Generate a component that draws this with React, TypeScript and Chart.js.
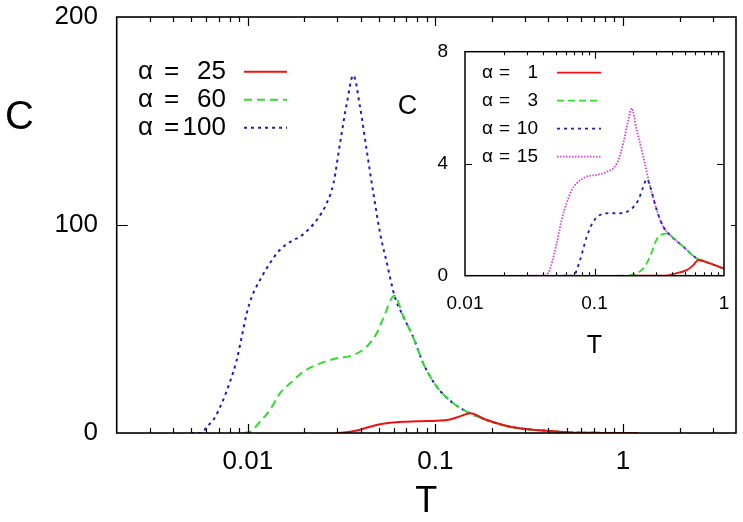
import React, { useEffect, useRef } from 'react';
import { Chart, registerables } from 'chart.js';

Chart.register(...registerables);

const FONT = '"Liberation Sans", Arial, Helvetica, sans-serif';

// ---------- main chart data ----------
const mainAlphas = [25, 60, 100];

const redT = [0.0298, 0.035, 0.0396, 0.0448, 0.0507, 0.0573, 0.0672, 0.0828, 0.102, 0.1196, 0.135, 0.153, 0.1877, 0.25, 0.347, 0.522, 0.78, 1.2];
const redC = [0, 0.6, 1.6, 3.0, 4.2, 4.9, 5.4, 5.7, 5.9, 6.5, 8.0, 9.5, 6.25, 3.0, 1.4, 0.3, 0.05, 0];

const greenT = [0.0095, 0.0103, 0.0116, 0.0131, 0.0148, 0.0168, 0.0198, 0.0243, 0.0298, 0.0365, 0.043, 0.0486, 0.0526, 0.0605, 0.0674, 0.0762, 0.0861, 0.1016, 0.1245, 0.153, 0.1877, 0.25, 0.347, 0.522, 0.78, 1.2];
const greenC = [0, 0.6, 5.4, 11, 19, 23.9, 29.5, 33.5, 35.9, 37.5, 41.5, 48, 55, 66, 56, 46, 33.5, 22.3, 14.3, 9.5, 6.25, 3.0, 1.4, 0.3, 0.05, 0];

const blueT = [0.005, 0.00568, 0.00604, 0.00655, 0.00726, 0.00804, 0.00872, 0.00928, 0.00986, 0.0105, 0.0116, 0.0131, 0.0148, 0.0175, 0.019, 0.0233, 0.0263, 0.0286, 0.031, 0.0337, 0.0365, 0.0396, 0.043, 0.0467, 0.0507, 0.055, 0.0605, 0.0674, 0.0762, 0.0861, 0.1016, 0.1245, 0.153, 0.1877, 0.25, 0.347, 0.522, 0.78, 1.2];
const blueC = [0, 0, 3, 6.25, 14.3, 24.7, 35, 46.3, 57.5, 65.5, 73.5, 81.6, 88, 92.8, 94.4, 102.4, 110.4, 120, 139.3, 158.5, 172, 156.9, 136, 115.2, 96, 82, 66, 56, 46, 33.5, 22.3, 14.3, 9.5, 6.25, 3.0, 1.4, 0.3, 0.05, 0];

const mainXTicks = [0.01, 0.1, 1];
const mainXTickLabels = ['0.01', '0.1', '1'];
const mainYTicks = [0, 100, 200];

// ---------- inset data ----------
const insetAlphas = [1, 3, 10, 15];

const iRedT = [0.2, 0.3398, 0.4313, 0.515, 0.5795, 0.6331, 0.7797, 1.0];
const iRedC = [0, 0, 0.09, 0.2, 0.38, 0.56, 0.44, 0.25];

const iGreenT = [0.15, 0.1773, 0.2118, 0.2382, 0.2683, 0.2932, 0.3109, 0.3398, 0.3628, 0.3828, 0.4851, 0.6152, 0.7797, 1.0];
const iGreenC = [0, 0, 0.09, 0.26, 0.68, 1.16, 1.39, 1.49, 1.5, 1.45, 1.04, 0.62, 0.44, 0.25];

const iBlueT = [0.05, 0.0592, 0.0686, 0.0773, 0.0871, 0.0979, 0.1103, 0.1317, 0.1574, 0.188, 0.2179, 0.2382, 0.253, 0.2683, 0.3022, 0.3398, 0.3828, 0.4851, 0.6152, 0.7797, 1.0];
const iBlueC = [0, 0, 0, 0.56, 1.39, 1.93, 2.17, 2.23, 2.23, 2.35, 2.7, 3.18, 3.45, 3.2, 2.35, 1.75, 1.45, 1.04, 0.62, 0.44, 0.25];

const iMagT = [0.03, 0.0391, 0.044, 0.0467, 0.0511, 0.0558, 0.061, 0.0667, 0.0729, 0.0871, 0.104, 0.1243, 0.1484, 0.1669, 0.1824, 0.1938, 0.2118, 0.2382, 0.2683, 0.3022, 0.3398, 0.3828, 0.4851, 0.6152, 0.7797, 1.0];
const iMagC = [0, 0, 0.1, 0.44, 1.16, 2.0, 2.6, 3.06, 3.3, 3.54, 3.6, 3.71, 4.0, 4.73, 5.56, 5.98, 5.2, 4.25, 3.2, 2.35, 1.75, 1.45, 1.04, 0.62, 0.44, 0.25];

const insetXTicks = [0.01, 0.1, 1];
const insetXTickLabels = ['0.01', '0.1', '1'];
const insetYTicks = [0, 4, 8];

// ---------- styles ----------
const RED = '#ee1111';
const GREEN = '#2fdc2f';
const BLUE = '#1c1cc8';
const MAGENTA = '#e03ce0';

function pts(xs: number[], ys: number[]) {
  return xs.map((x, i) => ({ x, y: ys[i] }));
}

const bgPlugin = {
  id: 'bg',
  beforeDraw(chart: any, _a: any, o: any) {
    if (!o || !o.rect) return;
    const ctx = chart.ctx;
    ctx.save();
    ctx.fillStyle = '#fff';
    ctx.fillRect(o.rect[0], o.rect[1], o.rect[2], o.rect[3]);
    ctx.restore();
  },
};

const framePlugin = {
  id: 'frame',
  afterDraw(chart: any, _a: any, o: any) {
    const { ctx, chartArea: a } = chart;
    const xs = chart.scales.x;
    const ys = chart.scales.y;
    ctx.save();
    ctx.strokeStyle = '#000';
    ctx.lineWidth = o.tickWidth;
    ctx.setLineDash([]);
    ctx.beginPath();
    const lo = Math.floor(Math.log10(xs.min));
    const hi = Math.ceil(Math.log10(xs.max));
    for (let e = lo; e <= hi; e++) {
      for (let m = 1; m < 10; m++) {
        const v = m * Math.pow(10, e);
        if (v <= xs.min * 1.0001 || v >= xs.max * 0.9999) continue;
        const px = Math.round(xs.getPixelForValue(v)) + 0.5;
        const len = m === 1 ? o.major : o.minor;
        ctx.moveTo(px, a.bottom);
        ctx.lineTo(px, a.bottom - len);
        ctx.moveTo(px, a.top);
        ctx.lineTo(px, a.top + len);
      }
    }
    ys.ticks.forEach((t: any) => {
      if (t.value <= ys.min || t.value >= ys.max) return;
      const py = Math.round(ys.getPixelForValue(t.value)) + 0.5;
      ctx.moveTo(a.left, py);
      ctx.lineTo(a.left + o.yMajor, py);
      ctx.moveTo(a.right, py);
      ctx.lineTo(a.right - o.yMajor, py);
    });
    ctx.stroke();
    ctx.lineWidth = o.borderWidth;
    ctx.strokeRect(a.left, a.top, a.right - a.left, a.bottom - a.top);

    // vertical-axis title, written horizontally
    ctx.fillStyle = '#000';
    ctx.font = `${o.yTitleSize}px ${FONT}`;
    ctx.textAlign = 'center';
    ctx.textBaseline = 'middle';
    ctx.fillText(o.yTitle, o.yTitleX, o.yTitleY);

    // key
    ctx.font = `${o.keySize}px ${FONT}`;
    chart.data.datasets.forEach((ds: any, i: number) => {
      const yy = o.keyY + i * o.keyDy;
      ctx.fillStyle = '#000';
      ctx.textAlign = 'left';
      ctx.fillText('α', o.keyTextX, yy);
      ctx.fillText('=', o.keyEqX, yy);
      ctx.textAlign = 'right';
      ctx.fillText(String(o.keyValues[i]), o.keyValueX, yy);
      ctx.strokeStyle = ds.borderColor;
      ctx.lineWidth = ds.borderWidth;
      ctx.setLineDash(ds.borderDash || []);
      ctx.beginPath();
      ctx.moveTo(o.keyLine[0], yy);
      ctx.lineTo(o.keyLine[1], yy);
      ctx.stroke();
      ctx.setLineDash([]);
    });
    ctx.restore();
  },
};

function ds(label: string, xs: number[], ys: number[], color: string, dash: number[], width: number) {
  return {
    label,
    data: pts(xs, ys),
    borderColor: color,
    backgroundColor: color,
    borderWidth: width,
    borderDash: dash,
    pointRadius: 0,
    fill: false,
    tension: 0.4,
    cubicInterpolationMode: 'monotone',
  };
}

export default function App() {
  const mainRef = useRef<HTMLCanvasElement>(null);
  const insetRef = useRef<HTMLCanvasElement>(null);

  useEffect(() => {
    const mainChart = new Chart(mainRef.current as HTMLCanvasElement, {
      type: 'line',
      data: {
        datasets: [
          ds('α = 25', redT, redC, RED, [], 2),
          ds('α = 60', greenT, greenC, GREEN, [8, 5], 2),
          ds('α =100', blueT, blueC, BLUE, [3, 4], 2),
        ],
      },
      options: {
        responsive: false,
        animation: false,
        devicePixelRatio: 1,
        layout: { padding: { left: 0, right: 7, top: 17, bottom: 0 } },
        scales: {
          x: {
            type: 'logarithmic',
            min: 0.002,
            max: 4,
            afterBuildTicks: (s: any) => {
              s.ticks = mainXTicks.map((v) => ({ value: v }));
            },
            afterFit: (s: any) => {
              s.height = 89;
            },
            grid: { display: false, drawTicks: true, tickLength: 13 },
            border: { display: false },
            ticks: {
              autoSkip: false,
              maxRotation: 0,
              minRotation: 0,
              padding: 0,
              color: '#000',
              font: { family: FONT, size: 26 },
              callback: (_v: any, i: number) => mainXTickLabels[i],
            },
            title: {
              display: true,
              text: 'T',
              color: '#000',
              font: { family: FONT, size: 36, lineHeight: 1 },
              padding: { top: 0, bottom: 1.5 },
            },
          },
          y: {
            type: 'linear',
            min: 0,
            max: 200,
            afterBuildTicks: (s: any) => {
              s.ticks = mainYTicks.map((v) => ({ value: v }));
            },
            afterFit: (s: any) => {
              s.width = 116.7;
            },
            grid: { display: false, drawTicks: true, tickLength: 18.7 },
            border: { display: false },
            ticks: {
              padding: 0,
              color: '#000',
              font: { family: FONT, size: 26 },
              callback: (v: any) => String(v),
            },
          },
        },
        plugins: {
          legend: { display: false },
          tooltip: { enabled: false },
          frame: {
            tickWidth: 1.2,
            borderWidth: 1.6,
            major: 9,
            minor: 5,
            yMajor: 11,
            yTitle: 'C',
            yTitleSize: 40,
            yTitleX: 19.5,
            yTitleY: 118,
            keySize: 26,
            keyY: 71.7,
            keyDy: 28,
            keyTextX: 138,
            keyEqX: 164,
            keyValueX: 226,
            keyLine: [244, 287],
            keyValues: mainAlphas,
          },
        } as any,
      },
      plugins: [framePlugin],
    } as any);

    const insetChart = new Chart(insetRef.current as HTMLCanvasElement, {
      type: 'line',
      data: {
        datasets: [
          ds('α = 1', iRedT, iRedC, RED, [], 1.8),
          ds('α = 3', iGreenT, iGreenC, GREEN, [7, 4], 1.8),
          ds('α = 10', iBlueT, iBlueC, BLUE, [3, 4], 1.8),
          ds('α = 15', iMagT, iMagC, MAGENTA, [1.5, 1.5], 1.8),
        ],
      },
      options: {
        responsive: false,
        animation: false,
        devicePixelRatio: 1,
        layout: { padding: { left: 0, right: 11, top: 21.7, bottom: 0 } },
        scales: {
          x: {
            type: 'logarithmic',
            min: 0.01,
            max: 1,
            afterBuildTicks: (s: any) => {
              s.ticks = insetXTicks.map((v) => ({ value: v }));
            },
            afterFit: (s: any) => {
              s.height = 94.3;
            },
            grid: { display: false, drawTicks: true, tickLength: 16.4 },
            border: { display: false },
            ticks: {
              autoSkip: false,
              maxRotation: 0,
              minRotation: 0,
              padding: 0,
              color: '#000',
              font: { family: FONT, size: 19 },
              callback: (_v: any, i: number) => insetXTickLabels[i],
            },
            title: {
              display: true,
              text: 'T',
              color: '#000',
              font: { family: FONT, size: 25, lineHeight: 1 },
              padding: { top: 0, bottom: 11.5 },
            },
          },
          y: {
            type: 'linear',
            min: 0,
            max: 8,
            afterBuildTicks: (s: any) => {
              s.ticks = insetYTicks.map((v) => ({ value: v }));
            },
            afterFit: (s: any) => {
              s.width = 70;
            },
            grid: { display: false, drawTicks: true, tickLength: 17 },
            border: { display: false },
            ticks: {
              padding: 0,
              color: '#000',
              font: { family: FONT, size: 19 },
              callback: (v: any) => String(v),
            },
          },
        },
        plugins: {
          legend: { display: false },
          tooltip: { enabled: false },
          bg: { rect: [0, 0, 336, 255] },
          frame: {
            tickWidth: 1.1,
            borderWidth: 1.5,
            major: 7,
            minor: 3.5,
            yMajor: 7,
            yTitle: 'C',
            yTitleSize: 27,
            yTitleX: 12.5,
            yTitleY: 77,
            keySize: 19,
            keyY: 42.7,
            keyDy: 28,
            keyTextX: 87,
            keyEqX: 104,
            keyValueX: 143,
            keyLine: [162, 206],
            keyValues: insetAlphas,
          },
        } as any,
      },
      plugins: [bgPlugin, framePlugin],
    } as any);

    return () => {
      mainChart.destroy();
      insetChart.destroy();
    };
  }, []);

  return (
    <div style={{ position: 'absolute', left: 0, top: 0, width: 743, height: 522, background: '#fff' }}>
      <canvas ref={mainRef} width={743} height={522} style={{ position: 'absolute', left: 0, top: 0, width: 743, height: 522 }} />
      <canvas ref={insetRef} width={340} height={340} style={{ position: 'absolute', left: 395, top: 30, width: 340, height: 340 }} />
    </div>
  );
}
